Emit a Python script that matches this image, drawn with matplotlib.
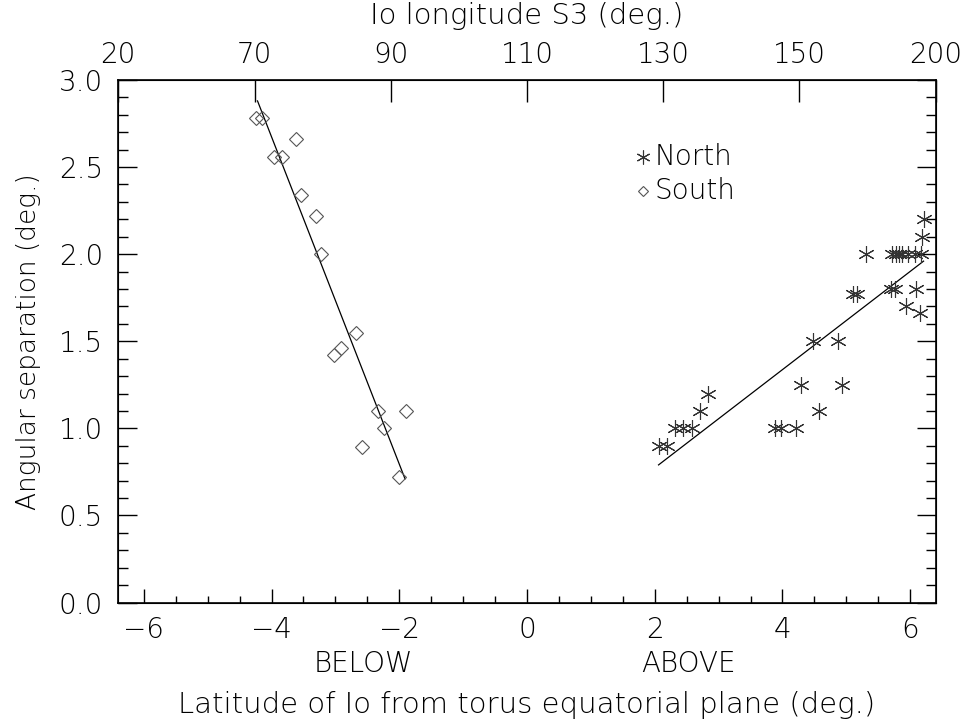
import matplotlib
matplotlib.use("Agg")
import matplotlib.pyplot as plt
import numpy as np

plt.rcParams['font.family'] = ['DejaVu Sans']
plt.rcParams['font.weight'] = 200
plt.rcParams['axes.labelweight'] = 200

# ---- data ----
# South (below the torus plane): latitude (deg.), angular separation (deg.)
south_lat = [-4.24, -4.15, -3.62, -3.96, -3.83, -3.54, -3.31, -3.23,
             -2.68, -2.92, -3.02, -2.34, -1.90, -2.24, -2.58, -2.00]
south_sep = [2.78, 2.78, 2.66, 2.56, 2.56, 2.34, 2.22, 2.00,
             1.55, 1.46, 1.42, 1.10, 1.10, 1.00, 0.89, 0.72]

# North (above the torus plane)
north_lat = [2.06, 2.19, 2.32, 2.45, 2.58, 2.71, 2.84, 3.89, 3.98, 4.21,
             4.29, 4.93, 4.58, 4.48, 4.87, 5.11, 5.16, 5.31,
             5.70, 5.77, 6.09, 5.94, 6.16, 6.21, 6.18,
             5.72, 5.78, 5.82, 5.88, 5.96, 6.08, 6.17]
north_sep = [0.90, 0.90, 1.00, 1.00, 1.00, 1.10, 1.20, 1.00, 1.00, 1.00,
             1.25, 1.25, 1.10, 1.50, 1.50, 1.77, 1.77, 2.00,
             1.80, 1.80, 1.80, 1.70, 1.66, 2.20, 2.10,
             2.00, 2.00, 2.00, 2.00, 2.00, 2.00, 2.00]

# linear fit lines (end points)
south_fit_x = [-4.22, -1.91]
south_fit_y = [2.88, 0.71]
north_fit_x = [2.06, 6.21]
north_fit_y = [0.79, 1.96]

top_labels = ['20', '70', '90', '110', '130', '150', '200']

# ---- figure ----
fig = plt.figure(figsize=(9.65, 7.26), dpi=100)
ax = fig.add_axes([118.3 / 965, 1 - 602.5 / 726, 817.4 / 965, 522.5 / 726])

ax.plot(south_fit_x, south_fit_y, color='black', lw=0.9)
ax.plot(north_fit_x, north_fit_y, color='black', lw=0.9)
ax.plot(south_lat, south_sep, linestyle='none', marker='D', ms=7,
        mfc='none', mec='#555555', mew=0.8)
ax.plot(north_lat, north_sep, linestyle='none', marker=(6, 2, 0), ms=12,
        mec='#333333', mew=0.8)

ax.set_xlim(-6.4, 6.4)
ax.set_ylim(0, 3.0)
ax.set_xticks(np.arange(-6, 7, 2))
ax.set_xticks(np.arange(-6, 6.1, 0.5), minor=True)
ax.set_yticks(np.arange(0, 3.01, 0.5))
ax.set_yticks(np.arange(0, 3.01, 0.1), minor=True)
ax.set_xticklabels(['\u22126', '\u22124', '\u22122', '0', '2', '4', '6'])
ax.set_yticklabels(['%.1f' % v for v in np.arange(0, 3.01, 0.5)])

ax.tick_params(axis='both', which='both', direction='in', labelsize=20, width=1.0)
ax.tick_params(axis='y', which='both', left=True, right=True)
ax.tick_params(axis='y', which='major', length=14, pad=11)
ax.tick_params(axis='y', which='minor', length=7)
ax.tick_params(axis='x', which='major', length=10, pad=10, top=False)
ax.tick_params(axis='x', which='minor', length=5, top=False)
for s in ax.spines.values():
    s.set_linewidth(1.2)

ax.set_ylabel('Angular separation (deg.)', fontsize=19)
ax.yaxis.set_label_coords(-0.11, 0.5)
ax.yaxis.label.set_va('center')
ax.set_xlabel('Latitude of Io from torus equatorial plane (deg.)', fontsize=21)
ax.xaxis.set_label_coords(0.5, -0.196)
ax.xaxis.label.set_va('center')

ax.text(-2.57, -0.118, 'BELOW', transform=ax.get_xaxis_transform(),
        ha='center', va='center', fontsize=20)
ax.text(2.52, -0.118, 'ABOVE', transform=ax.get_xaxis_transform(),
        ha='center', va='center', fontsize=20)

# legend
ax.plot([1.82], [2.56], linestyle='none', marker=(6, 2, 0), ms=10,
        mec='#333333', mew=0.8)
ax.plot([1.82], [2.36], linestyle='none', marker='D', ms=5,
        mfc='none', mec='#555555', mew=0.8)
ax.text(2.0, 2.56, 'North', fontsize=20, va='center', ha='left')
ax.text(2.0, 2.36, 'South', fontsize=20, va='center', ha='left')

# top axis: Io longitude S3
ax2 = ax.twiny()
ax2.set_xlim(ax.get_xlim())
ax2.set_xticks(np.linspace(-6.4, 6.4, len(top_labels)))
ax2.set_xticklabels(top_labels)
ax2.tick_params(axis='x', which='major', direction='in', length=16,
                width=1.0, labelsize=20, pad=8)
ax2.set_xlabel('Io longitude S3 (deg.)', fontsize=21)
ax2.xaxis.set_label_coords(0.5, 1.122)
ax2.xaxis.label.set_va('center')

fig.savefig('out.png', dpi=100)
